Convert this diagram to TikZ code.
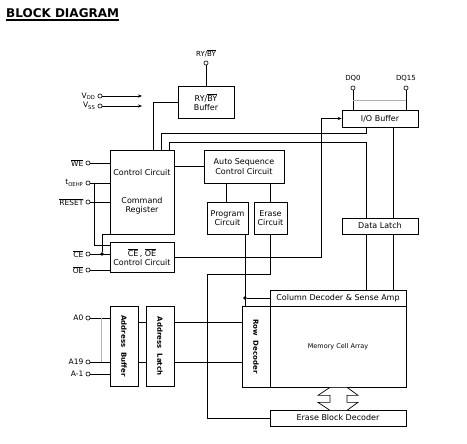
\documentclass[tikz,border=0pt]{standalone}
\usepackage{fontspec}
\setmainfont{DejaVu Sans}
\usetikzlibrary{positioning,arrows.meta}
\newcommand{\barsig}[1]{$\overline{\mbox{#1}}$}

\begin{document}
\begin{tikzpicture}[
    x=1pt, y=-1pt,
    font=\fontsize{8}{9.5}\selectfont,
    >={Stealth[length=4pt,width=3.2pt]},
    wire/.style={line width=0.7pt},
    line/.style={->, wire},
    blk/.style={
        draw, line width=0.7pt,
        align=center,
        inner sep=1pt
    },
    vblk/.style={
        blk, rotate=-90,
        font=\bfseries\fontsize{7}{8}\selectfont
    },
    pin/.style={
        circle, draw, fill=white,
        line width=0.6pt,
        inner sep=0pt, minimum size=4.2pt
    },
    pinlbl/.style={inner sep=0pt, font=\fontsize{7.5}{9}\selectfont},
    dot/.style={circle, fill, inner sep=0pt, minimum size=3.6pt},
    bus/.style={gray!60, line width=0.4pt}
]
\useasboundingbox (0,0) rectangle (467,444);

% Title
\node[anchor=south west, inner sep=0pt,
      font=\bfseries\fontsize{12}{14}\selectfont] (title) at (6,18) {BLOCK DIAGRAM};
\draw[line width=1.3pt] ([yshift=-2]title.south west) -- ([yshift=-2]title.south east);

% Blocks
\node[blk, minimum width=56, minimum height=32] (rybuf) at (206,102) {RY/\barsig{BY}\\Buffer};
\node[blk, minimum width=76, minimum height=17] (iobuf) at (380,118.5) {I/O Buffer};
\node[blk, minimum width=64, minimum height=84] (ctrl) at (142,192)
  {Control Circuit\\[18pt]Command\\Register};
\node[blk, minimum width=80, minimum height=33] (autoseq) at (244,166.5)
  {Auto Sequence\\Control Circuit};
\node[blk, minimum width=41, minimum height=32] (prog) at (227.5,218) {Program\\Circuit};
\node[blk, minimum width=33, minimum height=32] (erase) at (270.5,218) {Erase\\Circuit};
\node[blk, minimum width=76, minimum height=16] (latch) at (380,226) {Data Latch};
\node[blk, minimum width=64, minimum height=30] (ceoe) at (142,257)
  {\barsig{CE}\,,\ \barsig{OE}\\Control Circuit};
\node[vblk, minimum width=80, minimum height=28] (abuf) at (124,346) {Address\ \ Buffer};
\node[vblk, minimum width=80, minimum height=28] (alatch) at (160,346) {Address\ \ Latch};
\node[vblk, minimum width=81, minimum height=28] (rowdec) at (256,346.5) {Row\ \ Decoder};
\node[blk, minimum width=136, minimum height=16] (coldec) at (338,298)
  {Column Decoder \& Sense Amp};
\node[blk, minimum width=136, minimum height=81, font=\fontsize{6.5}{8}\selectfont]
  (cell) at (338,346.5) {Memory Cell Array};
\node[blk, minimum width=136, minimum height=16] (ebd) at (338,418) {Erase Block Decoder};

% Pins
\node[pin] (pRy)    at (206,63) {};
\node[pin] (pDQ0)   at (353,88) {};
\node[pin] (pDQ15)  at (406,88) {};
\node[pin] (pVdd)   at (100,96) {};
\node[pin] (pVss)   at (100,106) {};
\node[pin] (pWE)    at (88,163) {};
\node[pin] (pToe)   at (88,183) {};
\node[pin] (pReset) at (88,202) {};
\node[pin] (pCE)    at (88,254) {};
\node[pin] (pOE)    at (88,270) {};
\node[pin] (pA0)    at (88,318) {};
\node[pin] (pA19)   at (88,362) {};
\node[pin] (pAm1)   at (88,374) {};

% Pin labels
\node[pinlbl, above=3pt of pRy, font=\fontsize{7}{8}\selectfont] (lRy) {RY/\barsig{BY}};
\node[pinlbl, above=4pt of pDQ0, font=\fontsize{7}{8}\selectfont] (lDQ0) {DQ0};
\node[pinlbl, above=4pt of pDQ15, font=\fontsize{7}{8}\selectfont] (lDQ15) {DQ15};
\node[pinlbl, left=2pt of pVdd] (lVdd) {V\textsubscript{DD}};
\node[pinlbl, left=2pt of pVss] (lVss) {V\textsubscript{SS}};
\node[pinlbl, left=2pt of pWE] (lWE) {\barsig{WE}};
\node[pinlbl, left=2pt of pToe] (lToe) {t\textsubscript{OEHP}};
\node[pinlbl, left=2pt of pReset] (lReset) {\barsig{RESET}};
\node[pinlbl, left=2pt of pCE] (lCE) {\barsig{CE}};
\node[pinlbl, left=2pt of pOE] (lOE) {\barsig{OE}};
\node[pinlbl, left=2pt of pA0] (lA0) {A0};
\node[pinlbl, left=2pt of pA19] (lA19) {A19};
\node[pinlbl, left=2pt of pAm1] (lAm1) {A-1};

% Supply arrows
\coordinate (vddEnd) at (142,96);
\coordinate (vssEnd) at (142,106);
\draw[line] (pVdd) -- (vddEnd);
\draw[line] (pVss) -- (vssEnd);

% RY/BY and I/O pins
\draw[wire] (pRy) -- (rybuf.north);
\draw[wire] (pDQ0) -- (pDQ0 |- iobuf.north);
\draw[wire] (pDQ15) -- (pDQ15 |- iobuf.north);
\draw[bus] ([yshift=-12]pDQ0.center) -- ([yshift=-12]pDQ15.center);

% Control inputs
\draw[wire] (pWE) -- (pWE -| ctrl.west);
\draw[wire] (pToe) -- (pToe -| ctrl.west);
\draw[wire] ([xshift=6]pToe.center) |- ([yshift=-4]ceoe.north west);
\draw[wire] (pReset) -- (pReset -| ctrl.west);
\draw[wire] (pCE) -- (pCE -| ceoe.west);
\node[dot] (dCE) at ([xshift=14]pCE.center) {};
\draw[wire] (dCE) |- (ctrl.south west);
\draw[wire] (pOE) -- (pOE -| ceoe.west);

% Lines above the control circuit
\draw[wire] (rybuf.west) -| ([xshift=44]ctrl.north west);
\draw[wire] ([xshift=-14]iobuf.south) -- ++(0,6) -| ([xshift=52]ctrl.north west);
\draw[wire] ([xshift=60]ctrl.north west) -- ++(0,-7) -| ([xshift=-14]latch.north);
\draw[wire] ([xshift=13]iobuf.south) -- ([xshift=13]latch.north);
\draw[line] (ceoe.east) -| ([xshift=-20]iobuf.west) -- (iobuf.west);

% Sequencer
\draw[wire] (ctrl.east |- autoseq.west) -- (autoseq.west);
\draw[wire] ([xshift=-18]autoseq.south) -- ([xshift=-18]autoseq.south |- prog.north);
\draw[wire] (erase.north |- autoseq.south) -- (erase.north);
\draw[wire] ([xshift=17.5]prog.south) -- ([xshift=17.5]prog.south |- rowdec.west);
\node[dot] (dColdec) at ([xshift=17.5]prog.south |- coldec.west) {};
\draw[wire] (dColdec) -- (coldec.west);
\draw[wire] (erase.south) -- ++(0,40) -| ([xshift=-62]ebd.west) -- (ebd.west);

% Data latch to column decoder
\draw[wire] ([xshift=-14]latch.south) -- ([xshift=-14]latch.south |- coldec.north);
\draw[wire] ([xshift=13]latch.south) -- ([xshift=13]latch.south |- coldec.north);

% Address path
\draw[wire] (pA0) -- (pA0 -| abuf.south);
\draw[wire] (pA19) -- (pA19 -| abuf.south);
\draw[wire] (pAm1) -- (pAm1 -| abuf.south);
\draw[bus] ([xshift=13]pA0.center) -- ([xshift=13]pA19.center);
\draw[wire] ([yshift=-4]abuf.north |- pA0) -- ([yshift=-4]alatch.south |- pA0);
\draw[wire] ([yshift=-4]alatch.north |- pA0) -- ([yshift=-4]rowdec.south |- pA0);
\draw[wire] (abuf.north |- pA19) -- (alatch.south |- pA19);
\draw[wire] (alatch.north |- pA19) -- (rowdec.south |- pA19);

% Hollow double arrow
\draw[wire, fill=white] ([xshift=-8]cell.south) -- ++(-12,8) -- ++(12,0) -- ++(0,7)
  -- ++(-12,0) -- ++(12,8) -- ++(17,0) -- ++(11,-8) -- ++(-11,0) -- ++(0,-7)
  -- ++(11,0) -- ++(-11,-8) -- cycle;

\end{tikzpicture}
\end{document}
